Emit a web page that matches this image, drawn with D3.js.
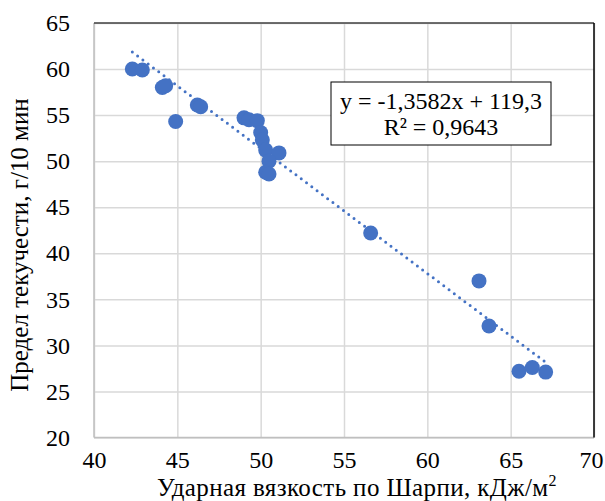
<!DOCTYPE html>
<html>
<head>
<meta charset="utf-8">
<script src="https://cdn.jsdelivr.net/npm/d3@7/dist/d3.min.js"></script>
<style>
  html, body { margin: 0; padding: 0; background: #fff; }
  svg { display: block; font-family: "Liberation Serif", serif; }
  .grid line { stroke: #d9d9d9; stroke-width: 1.5; }
  .grid path { display: none; }
  .axis path, .axis line { display: none; }
</style>
</head>
<body>
<div id="chart"></div>
<script>
;(function() {
  'use strict';

  // Charpy impact strength, kJ/m2
  var impact = [42.3, 42.9, 44.1, 44.3, 44.9, 46.2, 46.4, 49.0, 49.3, 49.8,
                50.0, 50.1, 50.3, 51.1, 50.5, 50.3, 50.5, 56.6, 63.1, 63.7,
                65.5, 66.3, 67.1];
  // Melt flow, g/10 min
  var flow = [60.0, 59.9, 58.0, 58.2, 54.3, 56.1, 55.9, 54.7, 54.5, 54.4,
              53.1, 52.3, 51.2, 50.9, 50.0, 48.8, 48.6, 42.2, 37.0, 32.1,
              27.2, 27.6, 27.1];

  var xTicks = [40, 45, 50, 55, 60, 65, 70];
  var yTicks = [20, 25, 30, 35, 40, 45, 50, 55, 60, 65];

  // Linear trend shown in the box.
  var slope = -1.3582;
  var intercept = 119.3;
  var trendLabel = ['y = -1,3582x + 119,3', 'R² = 0,9643'];

  var serif = '"Liberation Serif", serif';

  var width = 605, height = 501;
  var margin = {top: 23, right: 11, bottom: 63.5, left: 94};
  var chartW = width - margin.left - margin.right;
  var chartH = height - margin.top - margin.bottom;

  var points = impact.map(function(d, i) { return {x: d, y: flow[i]}; });

  var xScale = d3.scaleLinear().domain([40, 70]).range([0, chartW]);
  var yScale = d3.scaleLinear().domain([20, 65]).range([chartH, 0]);

  var svg = d3.select('#chart').append('svg')
      .attr('width', width)
      .attr('height', height);

  var inner = svg.append('g')
      .attr('transform', translation(margin.left, margin.top));

  // The grid lines:
  inner.append('g')
      .classed('grid', true)
      .call(d3.axisLeft(yScale).tickValues(yTicks).tickSize(-chartW).tickFormat(''));
  inner.append('g')
      .classed('grid', true)
      .attr('transform', translation(0, chartH))
      .call(d3.axisBottom(xScale).tickValues(xTicks).tickSize(-chartH).tickFormat(''));

  // Axis lines: grey left and bottom, dark top and right.
  inner.append('line').attr('x1', 0).attr('x2', 0).attr('y1', 0).attr('y2', chartH)
      .attr('stroke', '#bfbfbf').attr('stroke-width', 1.5);
  inner.append('line').attr('x1', 0).attr('x2', chartW).attr('y1', chartH).attr('y2', chartH)
      .attr('stroke', '#bfbfbf').attr('stroke-width', 1.5);
  inner.append('line').attr('x1', 0).attr('x2', chartW).attr('y1', 0).attr('y2', 0)
      .attr('stroke', '#404040').attr('stroke-width', 1.5);
  inner.append('line').attr('x1', chartW).attr('x2', chartW).attr('y1', 0).attr('y2', chartH)
      .attr('stroke', '#000').attr('stroke-width', 1.5);

  // Tick labels. d3 puts sans-serif on the axis group, so drop it and style the texts.
  var yAxisG = inner.append('g')
      .classed('axis', true)
      .call(d3.axisLeft(yScale).tickValues(yTicks).tickSize(0).tickPadding(24))
      .attr('font-family', null)
      .attr('font-size', null);
  var xAxisG = inner.append('g')
      .classed('axis', true)
      .attr('transform', translation(0, chartH))
      .call(d3.axisBottom(xScale).tickValues(xTicks).tickSize(0).tickPadding(13.5))
      .attr('font-family', null)
      .attr('font-size', null);
  yAxisG.selectAll('.tick text')
      .style('font-family', serif)
      .style('font-size', '24px');
  xAxisG.selectAll('.tick text')
      .style('font-family', serif)
      .style('font-size', '24px');
  // Last label sits right on the edge, nudge it in a bit.
  xAxisG.selectAll('.tick text')
      .filter(function(d) { return d === 70; })
      .attr('dx', -3);

  // Dotted trend line across the data range.
  var xExt = d3.extent(impact);
  inner.append('line')
      .attr('x1', xScale(xExt[0]))
      .attr('y1', yScale(slope * xExt[0] + intercept))
      .attr('x2', xScale(xExt[1]))
      .attr('y2', yScale(slope * xExt[1] + intercept))
      .attr('stroke', '#4472c4')
      .attr('stroke-width', 3)
      .attr('stroke-linecap', 'round')
      .attr('stroke-dasharray', '0 6.6');

  inner.selectAll('.dot')
      .data(points)
      .enter()
      .append('circle')
      .classed('dot', true)
      .attr('cx', function(d) { return xScale(d.x); })
      .attr('cy', function(d) { return yScale(d.y); })
      .attr('r', 7.5)
      .attr('fill', '#4472c4');

  // Equation box.
  var box = svg.append('g').attr('transform', translation(331, 82));
  box.append('rect')
      .attr('width', 220)
      .attr('height', 63)
      .attr('fill', '#fff')
      .attr('stroke', '#000')
      .attr('stroke-width', 1);
  box.selectAll('text')
      .data(trendLabel)
      .enter()
      .append('text')
      .attr('x', 110)
      .attr('y', function(d, i) { return 27 + i * 26; })
      .attr('text-anchor', 'middle')
      .style('font-family', serif)
      .style('font-size', '24px')
      .text(function(d) { return d; });

  // Axis titles.
  var xTitle = svg.append('text')
      .attr('x', 357)
      .attr('y', 495.5)
      .attr('text-anchor', 'middle')
      .style('font-family', serif)
      .style('font-size', '25px')
      .style('letter-spacing', '0.4px');
  xTitle.append('tspan').text('Ударная вязкость по Шарпи, кДж/м');
  xTitle.append('tspan').attr('dy', -10).style('font-size', '16px').text('2');

  svg.append('text')
      .attr('transform', translation(28, 245) + ' rotate(-90)')
      .attr('text-anchor', 'middle')
      .style('font-family', serif)
      .style('font-size', '25px')
      .text('Предел текучести, г/10 мин');

  /**
   * Utility function to save manually writing translate().
   */
  function translation(x, y) {
    return 'translate(' + x + ',' + y + ')';
  }

}());
</script>
</body>
</html>
